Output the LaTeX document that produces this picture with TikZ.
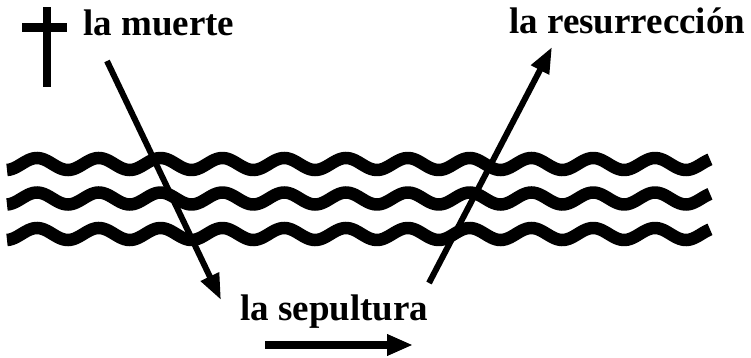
\documentclass[tikz,border=0pt]{standalone}
\usepackage{fontspec}
\setmainfont{Liberation Serif}
\usetikzlibrary{arrows.meta}
\begin{document}
\begin{tikzpicture}[x=1pt,y=-1pt,
  lbl/.style={anchor=base west,inner sep=0pt,font=\fontsize{37}{42}\selectfont\bfseries},
  wave/.style={line width=12.5pt,line cap=butt},
  bigarrow/.style={line width=6pt,-{Triangle[length=26pt,width=19pt]}},
  flatarrow/.style={line width=8pt,-{Triangle[length=26pt,width=20pt]}}]
\useasboundingbox (0,0) rectangle (751,358);
% cross
\fill (43,7) rectangle (51,87);
\fill (22,23.5) rectangle (67,32.5);
% labels
\node[lbl] (muerte) at (83,36) {la muerte};
\node[lbl] (resurr) at (509,34) {la resurrección};
\node[lbl] (sepultura) at (240,320) {la sepultura};
% waves
\foreach \c in {164,198.5,234}{
  \draw[wave] plot[domain=7:710,samples=300,smooth] (\x,{\c-6*cos(5.825*(\x-37))});
}
% arrows
\coordinate (a1s) at (107,61);
\coordinate (a1e) at (221,300);
\coordinate (a2s) at (429,283);
\coordinate (a2e) at (552,47);
\coordinate (a3s) at (265,345);
\coordinate (a3e) at (413,345);
\draw[bigarrow] (a1s) -- (a1e);
\draw[bigarrow] (a2s) -- (a2e);
\draw[flatarrow] (a3s) -- (a3e);
\end{tikzpicture}
\end{document}
